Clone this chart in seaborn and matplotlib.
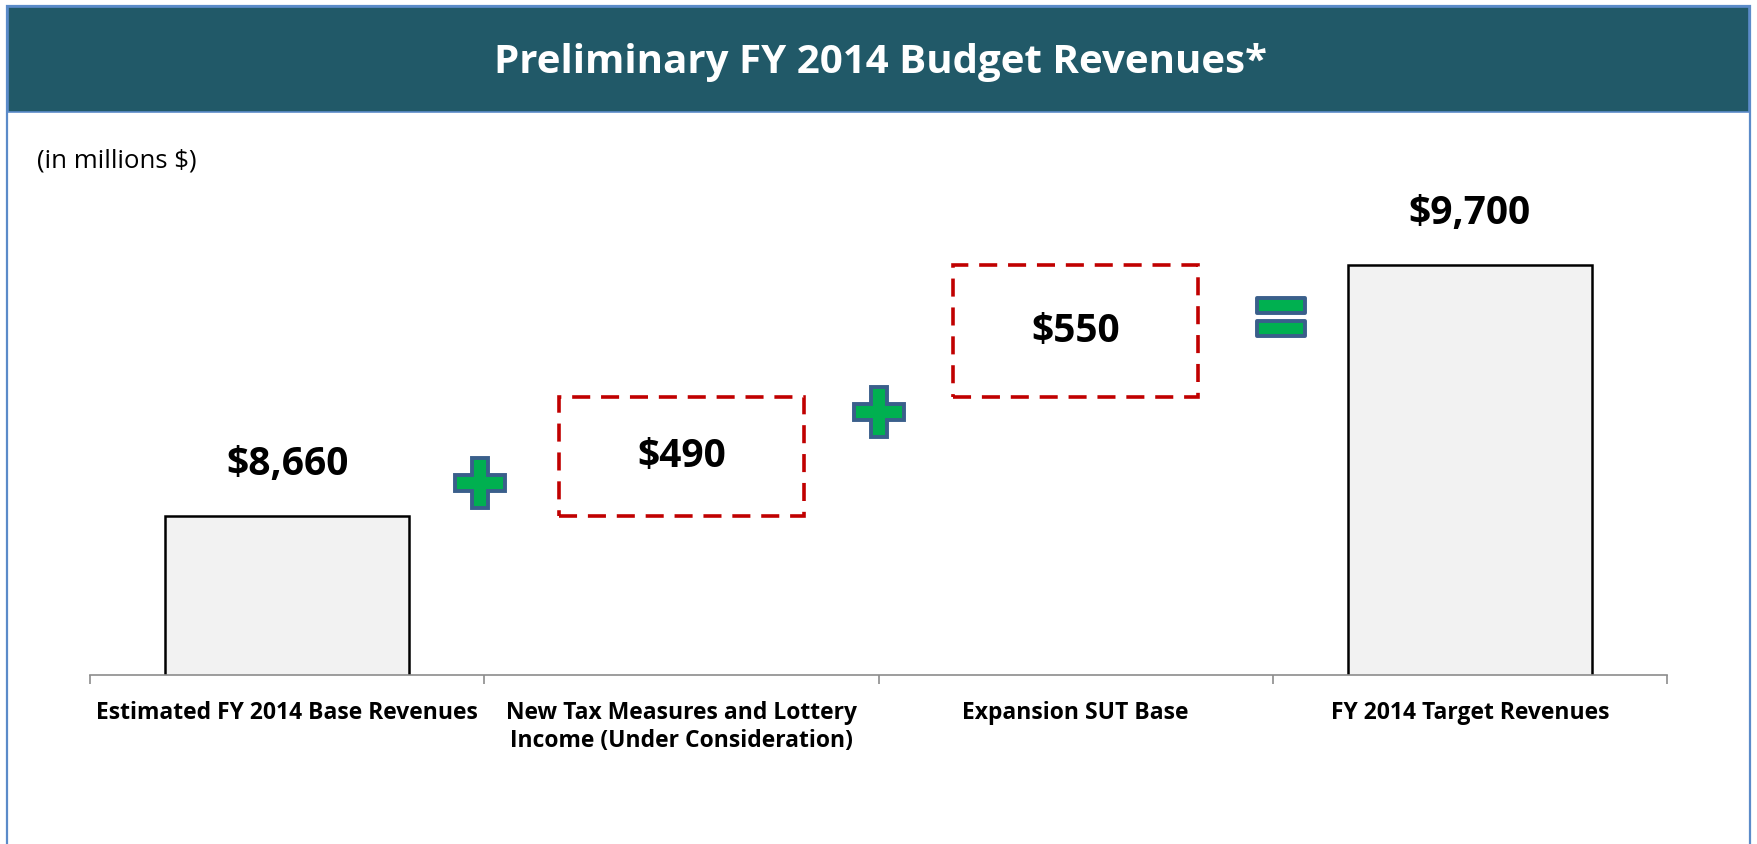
import matplotlib.pyplot as plt
import numpy as np
import pandas as pd
import seaborn as sns
from matplotlib.patches import Rectangle
from matplotlib.path import Path


sns.set_theme(style="white")
plt.rcParams["font.family"] = ["Open Sans", "DejaVu Sans"]

categories = [
    "Estimated FY 2014 Base Revenues",
    "New Tax Measures and Lottery\nIncome (Under Consideration)",
    "Expansion SUT Base",
    "FY 2014 Target Revenues",
]
amounts = [8660, 490, 550, 9700]
is_total = [True, False, False, True]
value_labels = ["$8,660", "$490", "$550", "$9,700"]
title = "Preliminary FY 2014 Budget Revenues*"
unit_note = "(in millions $)"

W, H = 1757, 844
HEADER = "#215968"
FRAME = "#5B8BC9"
RED = "#C00000"
GREEN = "#00B050"
OUTLINE = "#3A5F8B"


def fx(px):
    return px / W


def fy(py):
    return 1 - py / H


df = pd.DataFrame({"category": categories, "amount": amounts, "total": is_total})
running = np.cumsum([0] + amounts[:-1])
df["bottom"] = np.where(df["total"], 0, running)

fig = plt.figure(figsize=(W / 100, H / 100), dpi=100)
fig.patch.set_facecolor("white")

# slide frame and header band
fig.add_artist(Rectangle((fx(7), fy(860)), fx(1750) - fx(7), fy(6) - fy(860),
                         transform=fig.transFigure, facecolor="white",
                         edgecolor=FRAME, linewidth=1.6, zorder=0))
fig.add_artist(Rectangle((fx(8), fy(112)), fx(1749) - fx(8), fy(7) - fy(112),
                         transform=fig.transFigure, facecolor=HEADER,
                         edgecolor=FRAME, linewidth=1.2, zorder=1))
fig.text(fx(880), fy(62), title, color="white", fontsize=29, fontweight="bold",
         ha="center", va="center")
fig.text(fx(37), fy(161), unit_note, color="black", fontsize=18.5,
         ha="left", va="center")

ymin, ymax = 8000, 10050
ax = fig.add_axes([fx(90), fy(675), fx(1667) - fx(90), fy(180.3) - fy(675)])
ax.set_facecolor("none")

totals = df[df["total"]]
sns.barplot(data=totals, x="category", y="amount", order=categories,
            color="#F2F2F2", saturation=1, edgecolor="black", linewidth=1.8,
            width=0.62, ax=ax)

steps = df[~df["total"]]
step_x = [categories.index(c) for c in steps["category"]]
ax.bar(step_x, steps["amount"], bottom=steps["bottom"], width=0.62, fill=False,
       edgecolor=RED, linewidth=2.6, linestyle=(0, (5, 3)))

for i, row in df.iterrows():
    if row["total"]:
        ax.annotate(value_labels[i], (i, row["amount"]), xytext=(0, 37),
                    textcoords="offset points", ha="center", va="center",
                    fontsize=28, fontweight="bold", color="black")
    else:
        ax.text(i, row["bottom"] + row["amount"] / 2, value_labels[i],
                ha="center", va="center", fontsize=28, fontweight="bold",
                color="black")

# operator symbols between the columns
ax.plot([0.49, 1.5], [8796, 9090], ls="none", marker="P", ms=36,
        mfc=GREEN, mec=OUTLINE, mew=2.8, clip_on=False)
eq_verts = [(-24, 4), (24, 4), (24, 19), (-24, 19), (-24, 4),
            (-24, -19), (24, -19), (24, -4), (-24, -4), (-24, -19)]
eq_codes = [Path.MOVETO, Path.LINETO, Path.LINETO, Path.LINETO, Path.CLOSEPOLY] * 2
ax.plot([2.52], [9485], ls="none", marker=Path(eq_verts, eq_codes), ms=34.6,
        mfc=GREEN, mec=OUTLINE, mew=2.8, clip_on=False)

ax.set_xlim(-0.5, 3.5)
ax.set_ylim(ymin, ymax)
ax.set_xlabel("")
ax.set_ylabel("")
ax.set_yticks([])
for side in ["left", "right", "top"]:
    ax.spines[side].set_visible(False)
ax.spines["bottom"].set_color("#8C8C8C")
ax.spines["bottom"].set_linewidth(1.2)
ax.set_xticks(range(len(categories)))
ax.set_xticklabels(categories, fontsize=16.5, fontweight="bold", color="black",
                   linespacing=1.2)
ax.set_xticks(np.arange(-0.5, 4, 1), minor=True)
ax.tick_params(axis="x", which="major", length=0, pad=19)
ax.tick_params(axis="x", which="minor", length=6.5, width=1.2, color="#8C8C8C",
               direction="out", bottom=True)

fig.savefig("out.png", dpi=100)
plt.close(fig)
